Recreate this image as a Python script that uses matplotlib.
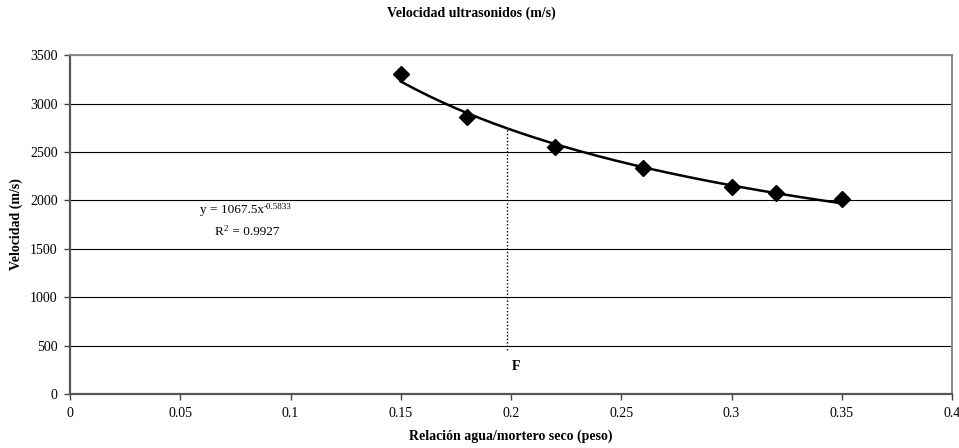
import matplotlib.pyplot as plt
import numpy as np

plt.rcParams['font.family'] = ['Liberation Serif', 'DejaVu Serif']

# measured points
relacion = [0.15, 0.18, 0.22, 0.26, 0.30, 0.32, 0.35]
velocidad = [3300, 2865, 2555, 2330, 2135, 2075, 2010]

# power trend line y = a * x^b
coef_a = 1067.5
coef_b = -0.5833
x_f = 0.198
f_bottom = 454

fig = plt.figure(figsize=(9.59, 4.48), dpi=100)
ax = fig.add_axes([0.073, 0.1205, 0.9197, 0.7565])

xs = np.linspace(min(relacion), max(relacion), 200)
ax.plot(xs, coef_a * xs ** coef_b, color='black', lw=1.8, zorder=3)
ax.plot(relacion, velocidad, linestyle='none', marker='D', ms=8.5,
        color='black', zorder=4)

# dotted marker line at F
ax.plot([x_f, x_f], [f_bottom, coef_a * x_f ** coef_b], color='black',
        lw=1, linestyle=(0, (1, 1.5)), zorder=2)
ax.text(0.2025, 279, 'F', ha='center', va='center', fontsize=10, fontweight='bold')

# trend equation, superscript as its own small text
eq = ax.text(0.059, 1899, 'y = 1067.5x', ha='left', va='center', fontsize=9.5)
ax.annotate('-0.5833', xy=(1, 1), xycoords=eq, xytext=(0, -2),
            textcoords='offset points', ha='left', va='center', fontsize=6.5)
r2 = ax.text(0.0658, 1672, 'R', ha='left', va='center', fontsize=9.5)
ax.annotate('2', xy=(1, 1), xycoords=r2, xytext=(0, -2),
            textcoords='offset points', ha='left', va='center', fontsize=6.5)
ax.annotate(' = 0.9927', xy=(1, 0.5), xycoords=r2, xytext=(4, 0),
            textcoords='offset points', ha='left', va='center', fontsize=9.5)

ax.set_xlim(0, 0.4)
ax.set_ylim(0, 3500)
ax.set_xticks(np.arange(0, 0.401, 0.05))
ax.set_xticklabels(['0', '0.05', '0.1', '0.15', '0.2', '0.25', '0.3', '0.35', '0.4'])
ax.set_yticks(range(0, 3501, 500))
ax.yaxis.grid(True, color='black', lw=0.8)
ax.set_axisbelow(True)
ax.tick_params(labelsize=10, length=4, width=1, color='#444444', pad=5)

for s in ['left', 'bottom']:
    ax.spines[s].set_color('#555555')
    ax.spines[s].set_linewidth(1.6)
for s in ['top', 'right']:
    ax.spines[s].set_color('#888888')
    ax.spines[s].set_linewidth(1.4)

ax.set_xlabel('Relación agua/mortero seco (peso)', fontsize=10,
              fontweight='bold', labelpad=7)
ax.set_ylabel('Velocidad (m/s)', fontsize=10, fontweight='bold', labelpad=5)
fig.text(0.492, 0.971, 'Velocidad ultrasonidos (m/s)', ha='center', va='center',
         fontsize=10, fontweight='bold')

fig.savefig('out.png', dpi=100)
